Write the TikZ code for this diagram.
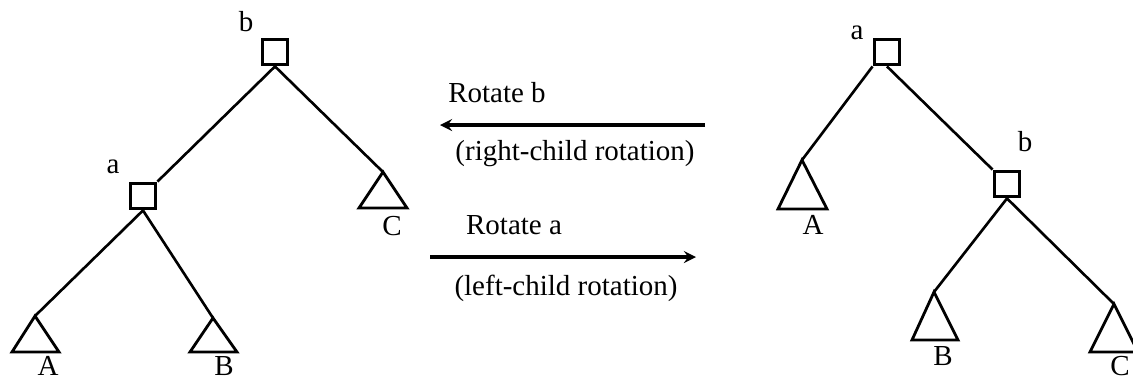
\documentclass[tikz,border=0pt]{standalone}
\usepackage{fontspec}
\setmainfont{Liberation Serif}
\usetikzlibrary{positioning}

\tikzset{
  knot/.style={draw, line width=2.2pt, minimum size=0.5cm, inner sep=0pt},
  edge/.style={line width=1.5pt},
  subtree/.style={line width=1.6pt, line join=miter},
  rotarrow/.style={->, line width=2pt},
  lbl/.style={inner sep=0pt, font=\fontsize{16.5}{19}\selectfont}
}

\begin{document}
\begin{tikzpicture}[>=stealth, x=0.02cm, y=-0.02cm]
    \useasboundingbox (0,0) rectangle (1133,380);

    % Linker Baum
    \node[knot] (lb) at (275,52) {};
    \node[knot] (la) at (143,196) {};
    \node[lbl] at (246,22) {b};
    \node[lbl] at (113,167) {a};
    \coordinate (lA) at (35,316);
    \coordinate (lB) at (213,318);
    \coordinate (lC) at (383,172);
    \draw[edge] (lb.south) -- (la.north east);
    \draw[edge] (lb.south) -- (lC);
    \draw[edge] (la.south) -- (lA);
    \draw[edge] (la.south) -- (lB);
    \draw[subtree] (lA) -- ++(-23,36) -- ++(47,0) -- cycle;
    \draw[subtree] (lB) -- ++(-23,34) -- ++(47,0) -- cycle;
    \draw[subtree] (lC) -- ++(-24,36) -- ++(48,0) -- cycle;
    \node[lbl] at (48,366) {A};
    \node[lbl] at (224,366) {B};
    \node[lbl] at (392,226) {C};

    % Rotationen
    \coordinate (r1) at (705,125);
    \coordinate (l1) at (440,125);
    \coordinate (l2) at (430,257);
    \coordinate (r2) at (696,257);
    \draw[rotarrow] (r1) -- (l1);
    \draw[rotarrow] (l2) -- (r2);
    \node[lbl] at (497,93) {Rotate b};
    \node[lbl] at (575,154) {(right-child rotation)};
    \node[lbl] at (514,225) {Rotate a};
    \node[lbl] at (566,288) {(left-child rotation)};

    % Rechter Baum
    \node[knot] (ra) at (887,52) {};
    \node[knot] (rb) at (1007,184) {};
    \node[lbl] at (857,33) {a};
    \node[lbl] at (1025,142) {b};
    \coordinate (rA) at (802,160);
    \coordinate (rB) at (934,292);
    \coordinate (rC) at (1114,304);
    \draw[edge] (ra.south west) -- (rA);
    \draw[edge] (ra.south) -- (rb.north west);
    \draw[edge] (rb.south) -- (rB);
    \draw[edge] (rb.south) -- (rC);
    \draw[subtree] (rA) -- ++(-24,49) -- ++(49,0) -- cycle;
    \draw[subtree] (rB) -- ++(-22,48) -- ++(46,0) -- cycle;
    \draw[subtree] (rC) -- ++(-24,48) -- ++(48,0) -- cycle;
    \node[lbl] at (813,225) {A};
    \node[lbl] at (943,356) {B};
    \node[lbl] at (1120,366) {C};
\end{tikzpicture}
\end{document}
